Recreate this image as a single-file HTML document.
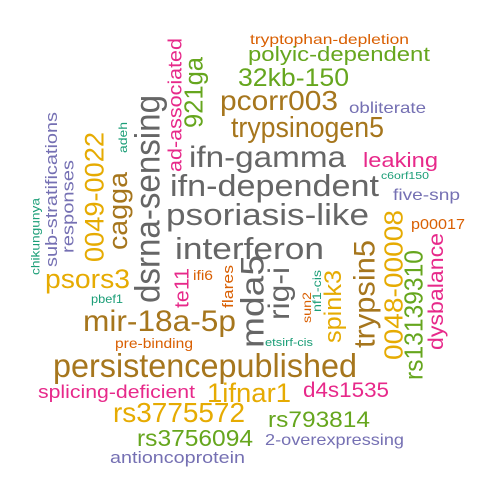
<!DOCTYPE html>
<html><head><meta charset="utf-8"><style>
html,body{margin:0;padding:0;background:#fff;width:500px;height:500px;overflow:hidden}
svg text{font-family:"Liberation Sans",Arial,sans-serif}
</style></head><body>
<svg id="cloud" width="500" height="500" viewBox="0 0 500 500" xmlns="http://www.w3.org/2000/svg"></svg>
<script>
const C={teal:"#1B9E77",orange:"#D95F02",purple:"#7570B3",pink:"#E7298A",green:"#66A61E",yellow:"#E6AB02",brown:"#A6761D",gray:"#666666"};
// horizontal words: [word, left, right, baseline, size, color]
const hWords=[
["tryptophan-depletion",250,409,44,14,"orange"],
["polyic-dependent",248,430,61,20,"green"],
["32kb-150",238,349,86,25,"green"],
["pcorr003",220,338,110,28,"brown"],
["obliterate",349,426,113,16,"purple"],
["trypsinogen5",231,384,137,29,"brown"],
["ifn-gamma",189,346,167,30,"gray"],
["leaking",363,438,167,20,"pink"],
["c6orf150",381,429,179,10,"teal"],
["ifn-dependent",170,379,196,31,"gray"],
["five-snp",393,460,200,16,"purple"],
["psoriasis-like",166,369,225,31,"gray"],
["p00017",411,465,229,15,"orange"],
["interferon",175,324,259,31,"gray"],
["ifi6",193,213,280,14,"orange"],
["psors3",45,130,288,27,"yellow"],
["pbef1",91,123,303,12,"teal"],
["mir-18a-5p",83,236,331,30,"brown"],
["pre-binding",115,193,348,14,"orange"],
["etsirf-cis",265,313,346,11,"teal"],
["persistencepublished",53,357,377,33,"brown"],
["splicing-deficient",38,195,398,18,"pink"],
["1ifnar1",207,291,402,27,"yellow"],
["d4s1535",303,389,397,21,"pink"],
["rs3775572",113,245,422,28,"yellow"],
["rs793814",268,370,427,22,"green"],
["rs3756094",137,253,446,23,"green"],
["2-overexpressing",265,404,445,16,"purple"],
["antioncoprotein",110,245,463,17,"purple"]
];
// vertical words (read bottom-to-top): [word, left, right, top, bottom, size, color]
const vWords=[
["chikungunya",31,39,198,275,12,"teal"],
["sub-stratifications",45,57,112,267,17,"purple"],
["responses",62,73,160,253,17,"purple"],
["0049-0022",83,105,132,262,27,"yellow"],
["adeh",118,127,122,153,12,"teal"],
["cagga",108,127,172,250,27,"brown"],
["dsrna-sensing",133,161,95,303,35,"gray"],
["ad-associated",167,182,38,172,19,"pink"],
["921ga",183,203,57,128,26,"green"],
["te11",173,190,268,308,20,"pink"],
["flares",222,233,265,308,15,"orange"],
["mda5",242,262,255,348,32,"gray"],
["rig-i",268,288,267,320,30,"gray"],
["sun2",302,311,292,323,12,"orange"],
["nf1-cis",312,321,270,312,12,"teal"],
["spink3",323,342,270,343,24,"yellow"],
["trypsin5",352,375,240,348,30,"brown"],
["0048-00008",383,403,210,360,26,"yellow"],
["rs13139310",403,423,250,380,26,"green"],
["dysbalance",428,443,233,350,21,"pink"]
];
const svg=document.getElementById('cloud');
const NS="http://www.w3.org/2000/svg";
hWords.forEach(w=>{
  const t=document.createElementNS(NS,'text');
  t.setAttribute('x',w[1]);t.setAttribute('y',w[3]);
  t.setAttribute('font-size',w[4]);t.setAttribute('fill',C[w[5]]);
  t.setAttribute('textLength',w[2]-w[1]);t.setAttribute('lengthAdjust','spacingAndGlyphs');
  t.textContent=w[0];
  
  
  svg.appendChild(t);
});
vWords.forEach(w=>{
  const t=document.createElementNS(NS,'text');
  const cx=(w[1]+w[2])/2, cy=(w[3]+w[4])/2, s=w[5];
  t.setAttribute('transform','translate('+(cx+0.36*s)+','+cy+') rotate(-90)');
  t.setAttribute('x',0);t.setAttribute('y',0);
  t.setAttribute('text-anchor','middle');
  t.setAttribute('font-size',s);t.setAttribute('fill',C[w[6]]);
  t.setAttribute('textLength',w[4]-w[3]);t.setAttribute('lengthAdjust','spacingAndGlyphs');
  t.textContent=w[0];
  
  
  svg.appendChild(t);
});
</script>
</body></html>
